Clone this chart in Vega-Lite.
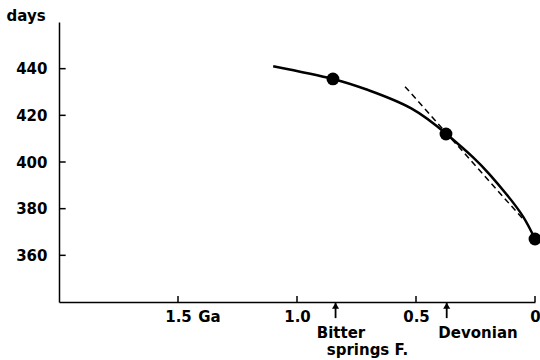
{
  "$schema": "https://vega.github.io/schema/vega-lite/v6.json",
  "autosize": "none",
  "width": 476,
  "height": 280,
  "padding": {"left": 59, "top": 22, "right": 5, "bottom": 58},
  "background": "white",
  "config": {
    "view": {"stroke": null},
    "font": "DejaVu Sans",
    "axis": {
      "grid": false,
      "ticks": false,
      "domainColor": "black",
      "domainWidth": 1.5,
      "labelColor": "black",
      "labelFont": "DejaVu Sans",
      "labelFontWeight": "bold",
      "labelFontSize": 15,
      "titleColor": "black",
      "titleFont": "DejaVu Sans",
      "titleFontWeight": "bold",
      "titleFontSize": 15
    }
  },
  "datasets": {
    "curve": [
      {"ga": 1.10, "days": 441},
      {"ga": 0.85, "days": 435.6},
      {"ga": 0.70, "days": 430.8},
      {"ga": 0.52, "days": 423},
      {"ga": 0.372, "days": 412},
      {"ga": 0.26, "days": 402},
      {"ga": 0.19, "days": 394.6},
      {"ga": 0.12, "days": 386.2},
      {"ga": 0.05, "days": 376.6},
      {"ga": 0.0, "days": 367}
    ],
    "dots": [
      {"ga": 0.849, "days": 435.6},
      {"ga": 0.374, "days": 412},
      {"ga": 0.0, "days": 367}
    ],
    "tangent": [
      {"ga": 0.546, "days": 432.3},
      {"ga": 0.05, "days": 375.5}
    ],
    "xticks": [
      {"ga": 1.5, "from": 340, "to": 342.6},
      {"ga": 1.0, "from": 340, "to": 342.6},
      {"ga": 0.5, "from": 340, "to": 342.6},
      {"ga": 0.0, "from": 340, "to": 342.6}
    ],
    "yticks": [
      {"days": 360, "from": 2.0, "to": 1.972},
      {"days": 380, "from": 2.0, "to": 1.972},
      {"days": 400, "from": 2.0, "to": 1.972},
      {"days": 420, "from": 2.0, "to": 1.972},
      {"days": 440, "from": 2.0, "to": 1.972}
    ],
    "arrows": [
      {"ga": 0.838, "top": 339.6, "bottom": 333.1, "head": 338.4},
      {"ga": 0.371, "top": 339.6, "bottom": 333.1, "head": 338.4}
    ],
    "labels": [
      {"ga": 1.415, "days": 333.6, "text": "Ga"},
      {"ga": 0.917, "days": 326.6, "text": "Bitter"},
      {"ga": 0.875, "days": 319.4, "text": "springs F."},
      {"ga": 0.406, "days": 326.6, "text": "Devonian"}
    ]
  },
  "layer": [
    {
      "data": {"name": "curve"},
      "mark": {"type": "line", "color": "black", "strokeWidth": 2.5, "interpolate": "natural"},
      "encoding": {
        "x": {
          "field": "ga", "type": "quantitative",
          "scale": {"domain": [0, 2], "reverse": true, "nice": false},
          "axis": {
            "title": null,
            "values": [1.5, 1.0, 0.5, 0],
            "labelExpr": "datum.value == 0 ? '0' : format(datum.value, '.1f')",
            "labelPadding": 7,
            "labelFlush": false
          }
        },
        "y": {
          "field": "days", "type": "quantitative",
          "scale": {"domain": [340, 460], "nice": false, "zero": false},
          "axis": {
            "title": "days",
            "values": [360, 380, 400, 420, 440],
            "labelPadding": 12,
            "titleAngle": 0,
            "titleAlign": "left",
            "titleBaseline": "middle",
            "titleX": -53,
            "titleY": -7
          }
        }
      }
    },
    {
      "data": {"name": "tangent"},
      "mark": {"type": "line", "color": "black", "strokeWidth": 1.5, "strokeDash": [6, 4]},
      "encoding": {
        "x": {"field": "ga", "type": "quantitative"},
        "y": {"field": "days", "type": "quantitative"}
      }
    },
    {
      "data": {"name": "dots"},
      "mark": {"type": "point", "filled": true, "color": "black", "opacity": 1, "size": 165},
      "encoding": {
        "x": {"field": "ga", "type": "quantitative"},
        "y": {"field": "days", "type": "quantitative"}
      }
    },
    {
      "data": {"name": "xticks"},
      "mark": {"type": "rule", "color": "black", "strokeWidth": 1.5},
      "encoding": {
        "x": {"field": "ga", "type": "quantitative"},
        "y": {"field": "from", "type": "quantitative"},
        "y2": {"field": "to"}
      }
    },
    {
      "data": {"name": "yticks"},
      "mark": {"type": "rule", "color": "black", "strokeWidth": 1.5},
      "encoding": {
        "y": {"field": "days", "type": "quantitative"},
        "x": {"field": "from", "type": "quantitative"},
        "x2": {"field": "to"}
      }
    },
    {
      "data": {"name": "arrows"},
      "mark": {"type": "rule", "color": "black", "strokeWidth": 1.8},
      "encoding": {
        "x": {"field": "ga", "type": "quantitative"},
        "y": {"field": "top", "type": "quantitative"},
        "y2": {"field": "bottom"}
      }
    },
    {
      "data": {"name": "arrows"},
      "mark": {"type": "point", "shape": "triangle-up", "filled": true, "color": "black", "opacity": 1, "size": 50},
      "encoding": {
        "x": {"field": "ga", "type": "quantitative"},
        "y": {"field": "head", "type": "quantitative"}
      }
    },
    {
      "data": {"name": "labels"},
      "mark": {"type": "text", "align": "left", "baseline": "middle", "fontSize": 15, "fontWeight": "bold", "color": "black", "font": "DejaVu Sans"},
      "encoding": {
        "x": {"field": "ga", "type": "quantitative"},
        "y": {"field": "days", "type": "quantitative"},
        "text": {"field": "text"}
      }
    }
  ]
}
